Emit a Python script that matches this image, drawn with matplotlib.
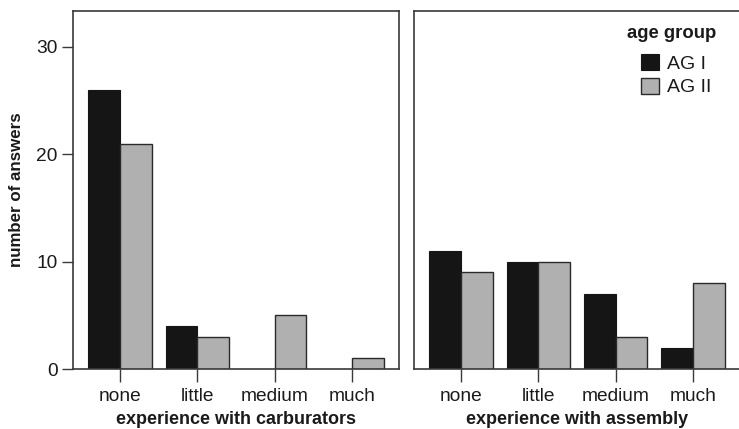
import matplotlib
matplotlib.use("Agg")
import matplotlib.pyplot as plt
import numpy as np
from matplotlib.patches import Patch

plt.rcParams['font.family'] = ['Liberation Sans', 'DejaVu Sans']

categories = ["none", "little", "medium", "much"]
carb_ag1 = [26, 4, 0, 0]
carb_ag2 = [21, 3, 5, 1]
asm_ag1 = [11, 10, 7, 2]
asm_ag2 = [9, 10, 3, 8]
yticks = [0, 10, 20, 30]
series_names = ["AG I", "AG II"]

c_dark = "#151515"
c_light = "#b0b0b0"
edge = "#2a2a2a"
spine_c = "#3a3a3a"

W, H = 739, 429
fig = plt.figure(figsize=(W / 100, H / 100), dpi=100)
bottom = (H - 369) / H
height = (369 - 11) / H
ax1 = fig.add_axes([73 / W, bottom, 326 / W, height])
ax2 = fig.add_axes([414 / W, bottom, 326 / W, height])

x = np.arange(len(categories))
bw = 0.41
for ax, a1, a2, xl in [(ax1, carb_ag1, carb_ag2, "experience with carburators"),
                       (ax2, asm_ag1, asm_ag2, "experience with assembly")]:
    ax.bar(x - bw / 2, a1, bw, color=c_dark, edgecolor=c_dark, linewidth=0.8)
    ax.bar(x + bw / 2, a2, bw, color=c_light, edgecolor=edge, linewidth=1.0)
    ax.set_xlim(-0.61, 3.61)
    ax.set_ylim(0, 33.35)
    ax.set_xticks(x)
    ax.set_xticklabels(categories, fontsize=13.8, color="#1a1a1a")
    ax.tick_params(axis="x", length=9, width=1.0, color=spine_c, pad=5)
    ax.set_xlabel(xl, fontsize=13, fontweight="bold", color="#1a1a1a", labelpad=4)
    for s in ax.spines.values():
        s.set_color(spine_c)
        s.set_linewidth(1.2)

ax1.set_yticks(yticks)
ax1.set_yticklabels([str(v) for v in yticks], fontsize=13.8, color="#1a1a1a")
ax1.tick_params(axis="y", length=8, width=1.0, color=spine_c, pad=3)
ax1.set_ylabel("number of answers", fontsize=12.2, fontweight="bold", color="#1a1a1a", labelpad=9)
ax2.set_yticks([])

# legend: title drawn separately so its gap to the entries can be set freely
fig.text(672 / W, (H - 33) / H, "age group", ha="center", va="center",
         fontsize=13.3, fontweight="bold", color="#1a1a1a")
handles = [Patch(facecolor=c_dark, edgecolor=c_dark, linewidth=0.8),
           Patch(facecolor=c_light, edgecolor=edge, linewidth=1.0)]
leg = ax2.legend(handles, series_names, loc="upper left",
                 bbox_to_anchor=(641 / W, (H - 54) / H), bbox_transform=fig.transFigure,
                 frameon=False, fontsize=14,
                 handlelength=0.9, handleheight=0.9, handletextpad=0.45, labelspacing=0.25,
                 borderpad=0, borderaxespad=0)
for t in leg.get_texts():
    t.set_color("#1a1a1a")

fig.savefig("out.png", dpi=100)
